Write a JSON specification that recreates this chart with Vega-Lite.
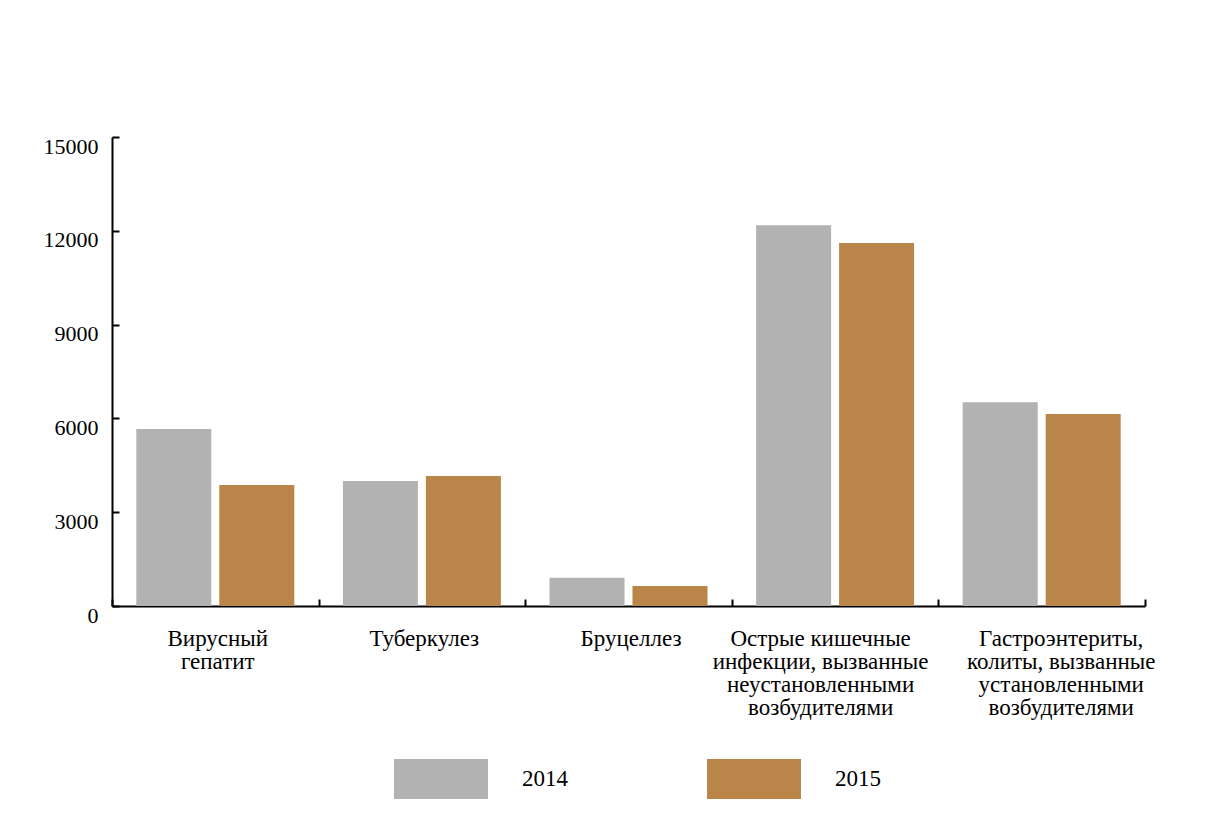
{
  "$schema": "https://vega.github.io/schema/vega-lite/v6.json",
  "width": 1033,
  "height": 469,
  "autosize": {"type": "none"},
  "padding": {"left": 112, "top": 137, "right": 61, "bottom": 222},
  "background": "white",
  "data": {
    "values": [
      {"cat": "Вирусный|гепатит", "year": "2014", "value": 5660},
      {"cat": "Вирусный|гепатит", "year": "2015", "value": 3870},
      {"cat": "Туберкулез", "year": "2014", "value": 4000},
      {"cat": "Туберкулез", "year": "2015", "value": 4160},
      {"cat": "Бруцеллез", "year": "2014", "value": 900},
      {"cat": "Бруцеллез", "year": "2015", "value": 640},
      {"cat": "Острые кишечные|инфекции, вызванные|неустановленными|возбудителями", "year": "2014", "value": 12180},
      {"cat": "Острые кишечные|инфекции, вызванные|неустановленными|возбудителями", "year": "2015", "value": 11610},
      {"cat": "Гастроэнтериты,|колиты, вызванные|установленными|возбудителями", "year": "2014", "value": 6520},
      {"cat": "Гастроэнтериты,|колиты, вызванные|установленными|возбудителями", "year": "2015", "value": 6140}
    ]
  },
  "resolve": {"axis": {"x": "independent"}},
  "layer": [
    {
      "mark": {"type": "bar"},
      "encoding": {
        "x": {
          "field": "cat",
          "type": "nominal",
          "sort": null,
          "scale": {"paddingInner": 0, "paddingOuter": 0},
          "axis": {
            "orient": "bottom",
            "title": null,
            "labelAngle": 0,
            "labelExpr": "indexof(datum.label, 'Острые') == 0 || indexof(datum.label, 'Гастро') == 0 ? '' : split(datum.label, '|')",
            "labelFont": "Liberation Serif",
            "labelFontSize": 23,
            "labelColor": "black",
            "labelLineHeight": 23,
            "labelBaseline": "top",
            "labelLimit": 400,
            "labelPadding": 28,
            "labelOffset": 2,
            "domainColor": "black",
            "domainWidth": 2,
            "tickColor": "black",
            "tickWidth": 2,
            "tickSize": -7,
            "tickBand": "extent"
          }
        },
        "xOffset": {
          "field": "year",
          "type": "nominal",
          "scale": {"paddingInner": 0.096, "paddingOuter": 0.293}
        },
        "y": {
          "field": "value",
          "type": "quantitative",
          "scale": {"domain": [0, 15000], "nice": false},
          "axis": {
            "title": null,
            "values": [0, 3000, 6000, 9000, 12000, 15000],
            "format": "d",
            "grid": false,
            "labelFont": "Liberation Serif",
            "labelFontSize": 22,
            "labelColor": "black",
            "labelPadding": 21,
            "labelOffset": 9,
            "domainColor": "black",
            "domainWidth": 2,
            "tickColor": "black",
            "tickWidth": 2,
            "tickSize": -7
          }
        },
        "color": {
          "field": "year",
          "type": "nominal",
          "scale": {"domain": ["2014", "2015"], "range": ["#b2b2b2", "#b98548"]},
          "legend": {
            "title": null,
            "orient": "none",
            "legendX": 282,
            "legendY": 595,
            "direction": "horizontal",
            "padding": 0,
            "symbolType": "M-1,-0.4255L1,-0.4255L1,0.4255L-1,0.4255Z",
            "symbolSize": 8836,
            "symbolStrokeWidth": 0,
            "symbolOpacity": 1,
            "labelFont": "Liberation Serif",
            "labelFontSize": 23,
            "labelColor": "black",
            "labelOffset": 34,
            "columnPadding": 139
          }
        }
      }
    },
    {
      "mark": {"type": "bar", "opacity": 0},
      "encoding": {
        "x": {
          "field": "cat",
          "type": "nominal",
          "sort": null,
          "axis": {
            "orient": "bottom",
            "title": null,
            "labelAngle": 0,
            "labelExpr": "indexof(datum.label, 'Острые') == 0 ? split(datum.label, '|') : ''",
            "labelFont": "Liberation Serif",
            "labelFontSize": 23,
            "labelColor": "black",
            "labelLineHeight": 23,
            "labelBaseline": "top",
            "labelLimit": 400,
            "labelPadding": 28,
            "labelOffset": -15,
            "domain": false,
            "tickColor": "transparent",
            "tickSize": -7,
            "tickBand": "extent"
          }
        }
      }
    },
    {
      "mark": {"type": "bar", "opacity": 0},
      "encoding": {
        "x": {
          "field": "cat",
          "type": "nominal",
          "sort": null,
          "axis": {
            "orient": "bottom",
            "title": null,
            "labelAngle": 0,
            "labelExpr": "indexof(datum.label, 'Гастро') == 0 ? split(datum.label, '|') : ''",
            "labelFont": "Liberation Serif",
            "labelFontSize": 23,
            "labelColor": "black",
            "labelLineHeight": 23,
            "labelBaseline": "top",
            "labelLimit": 400,
            "labelPadding": 28,
            "labelOffset": 19,
            "domain": false,
            "tickColor": "transparent",
            "tickSize": -7,
            "tickBand": "extent"
          }
        }
      }
    }
  ],
  "config": {"view": {"stroke": null}}
}
